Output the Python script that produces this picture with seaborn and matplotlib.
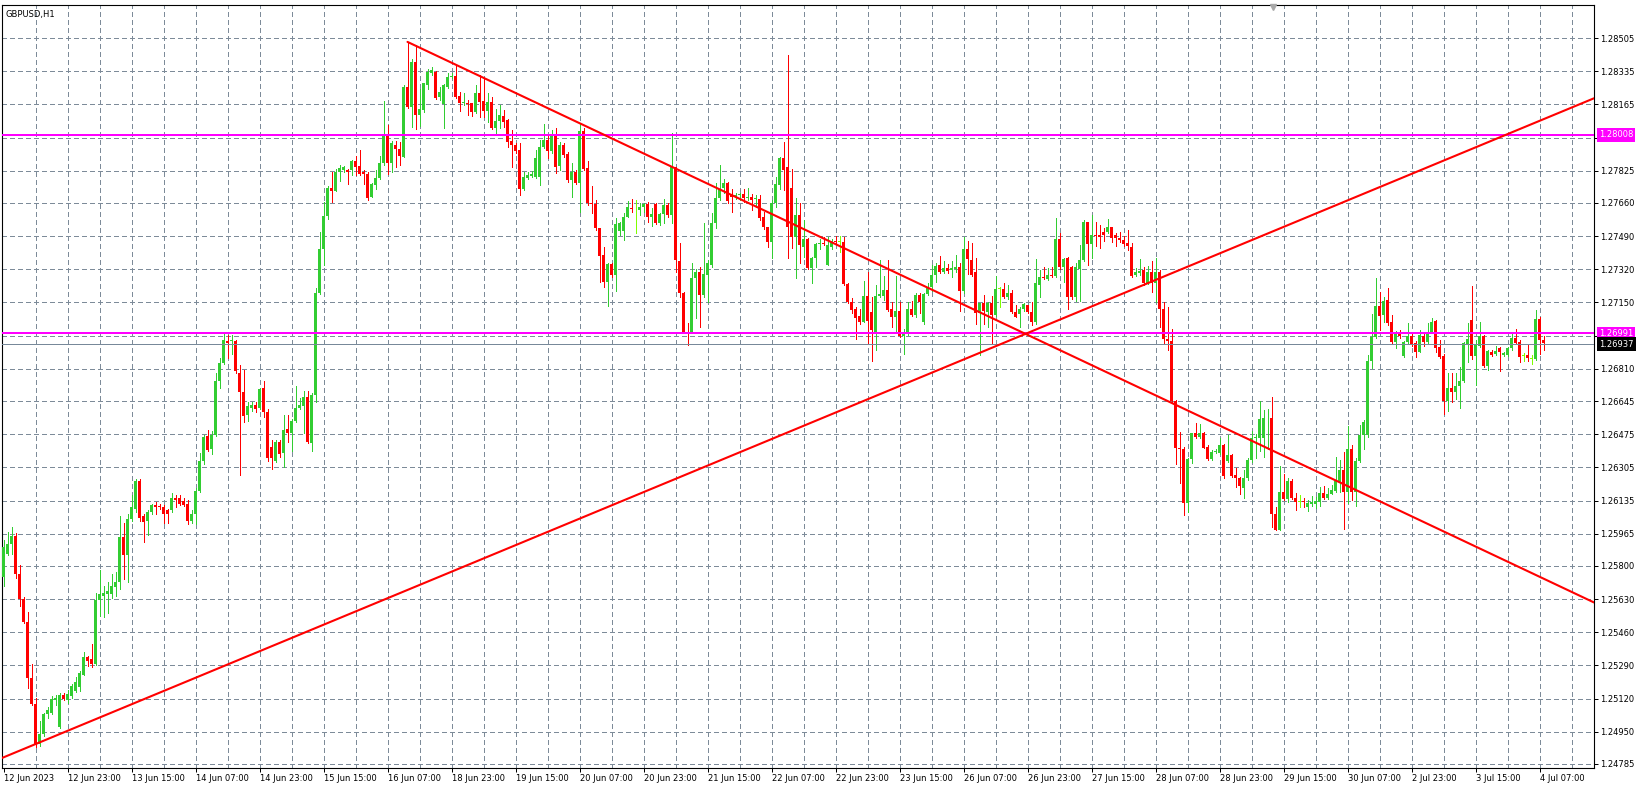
import numpy as np
import matplotlib
matplotlib.use('Agg')
import matplotlib.pyplot as plt
import matplotlib.transforms as mtransforms
import seaborn as sns

# GBPUSD H1 candles, prices in points (1e-5)
open_pts = [
    125744, 125863, 125911, 125954, 125756, 125632, 125512, 125226, 125093, 124885,
    124940, 125040, 125045, 125112, 124973, 125140, 125112, 125131, 125159, 125178,
    125243, 125333, 125321, 125298, 125624, 125648, 125655, 125655, 125691, 125720,
    125946, 125856, 126042, 126094, 126233, 126054, 126030, 126078, 126113, 126109,
    126101, 126089, 126089, 126149, 126149, 126132, 126118, 126030, 126066, 126185,
    126340, 126466, 126399, 126471, 126745, 126841, 126953, 126953, 126953, 126786,
    126690, 126571, 126609, 126626, 126609, 126710, 126590, 126411, 126340, 126435,
    126376, 126500, 126483, 126543, 126609, 126619, 126667, 126431, 126674, 127198,
    127425, 127592, 127735, 127723, 127819, 127830, 127830, 127830, 127873, 127850,
    127819, 127807, 127692, 127754, 127788, 127866, 128009, 127866, 127955, 127938,
    127897, 128256, 128153, 128384, 128110, 128136, 128264, 128324, 128332, 128204,
    128167, 128256, 128303, 128310, 128208, 128170, 128174, 128170, 128128, 128225,
    128184, 128131, 128179, 128042, 128081, 128105, 128085, 127979, 127957, 127931,
    127730, 127786, 127800, 127794, 127794, 127945, 127982, 127928, 128013, 127849,
    127957, 127911, 127777, 127820, 127764, 128028, 127837, 127661, 127654, 127530,
    127393, 127256, 127347, 127291, 127518, 127518, 127590, 127632, 127627, 127624,
    127637, 127654, 127586, 127654, 127555, 127603, 127649, 127598, 127842, 127364,
    127200, 127000, 127000, 127274, 127308, 127188, 127291, 127342, 127555, 127683,
    127735, 127760, 127701, 127692, 127701, 127706, 127683, 127692, 127678, 127678,
    127590, 127535, 127461, 127658, 127752, 127888, 127842, 127735, 127487, 127598,
    127436, 127474, 127325, 127376, 127450, 127457, 127342, 127433, 127467, 127462,
    127462, 127243, 127154, 127115, 127081, 127052, 127183, 127103, 127001, 127183,
    127183, 127214, 127115, 127077, 127108, 126980, 126989, 127115, 127086, 127188,
    127052, 127194, 127228, 127291, 127342, 127308, 127325, 127317, 127320, 127330,
    127211, 127422, 127368, 127308, 127098, 127146, 127103, 127146, 127086, 127223,
    127218, 127177, 127197, 127103, 127091, 127115, 127137, 127103, 127052, 127240,
    127279, 127269, 127289, 127286, 127474, 127334, 127376, 127334, 127177, 127320,
    127368, 127564, 127450, 127496, 127496, 127513, 127513, 127535, 127496, 127479,
    127470, 127457, 127436, 127291, 127300, 127317, 127248, 127308, 127248, 127308,
    127115, 126961, 126955, 126647, 126403, 126398, 126121, 126346, 126480, 126462,
    126479, 126411, 126348, 126382, 126377, 126419, 126337, 126368, 126266, 126252,
    126201, 126249, 126343, 126454, 126457, 126457, 126556, 126559, 126064, 125984,
    126177, 126143, 126235, 126150, 126129, 126133, 126103, 126115, 126115, 126129,
    126172, 126146, 126167, 126184, 126232, 126291, 126177, 126399, 126177, 126337,
    126471, 126471, 126850, 126975, 127133, 127086, 127162, 127048, 126946, 126997,
    126877, 126946, 126980, 126940, 126898, 126980, 126946, 126997, 127055, 126923,
    126877, 126645, 126710, 126693, 126723, 126747, 126935, 127060, 126877, 126928,
    126980, 126826, 126898, 126884, 126915, 126881, 126881, 126915, 126966, 126946,
    126877, 126881, 126862, 126860, 127065, 126957,
]
high_pts = [
    125934, 125975, 125999, 125970, 125803, 125641, 125565, 125298, 125124, 125004,
    125045, 125076, 125135, 125140, 125147, 125147, 125164, 125195, 125231, 125259,
    125357, 125338, 125398, 125660, 125779, 125696, 125720, 125760, 125767, 126054,
    126018, 126066, 126161, 126244, 126244, 126066, 126089, 126118, 126125, 126118,
    126113, 126094, 126173, 126161, 126161, 126149, 126137, 126089, 126197, 126376,
    126471, 126495, 126490, 126786, 126865, 126991, 126984, 126984, 126960, 126829,
    126805, 126638, 126638, 126638, 126710, 126745, 126602, 126447, 126447, 126447,
    126571, 126571, 126555, 126721, 126662, 126698, 126698, 126686, 127222, 127509,
    127664, 127747, 127819, 127835, 127854, 127850, 127835, 127878, 127902, 127931,
    127830, 127819, 127764, 127830, 127902, 128183, 128057, 127978, 127978, 127974,
    128264, 128481, 128396, 128469, 128242, 128276, 128344, 128358, 128338, 128256,
    128268, 128327, 128327, 128362, 128230, 128225, 128187, 128174, 128264, 128315,
    128298, 128225, 128201, 128139, 128162, 128136, 128088, 128034, 127965, 127969,
    127820, 127820, 127825, 127931, 127982, 128063, 128003, 128034, 128046, 127974,
    127965, 127923, 127863, 127829, 128068, 128042, 127876, 127747, 127675, 127533,
    127436, 127350, 127350, 127581, 127564, 127607, 127672, 127678, 127675, 127658,
    127661, 127666, 127632, 127661, 127607, 127678, 127658, 128017, 127846, 127453,
    127205, 127043, 127350, 127320, 127330, 127559, 127367, 127607, 127760, 127854,
    127781, 127769, 127730, 127709, 127713, 127730, 127735, 127706, 127701, 127701,
    127615, 127538, 127675, 127794, 127897, 127974, 128418, 127832, 127683, 127658,
    127573, 127479, 127382, 127457, 127474, 127487, 127487, 127474, 127491, 127491,
    127487, 127248, 127171, 127129, 127115, 127262, 127308, 127180, 127240, 127368,
    127286, 127368, 127154, 127286, 127154, 127013, 127154, 127159, 127200, 127197,
    127197, 127248, 127342, 127351, 127388, 127364, 127347, 127364, 127393, 127351,
    127484, 127467, 127453, 127376, 127149, 127188, 127154, 127183, 127286, 127231,
    127252, 127240, 127214, 127137, 127125, 127146, 127137, 127154, 127371, 127317,
    127330, 127325, 127334, 127581, 127508, 127376, 127382, 127337, 127354, 127445,
    127573, 127564, 127598, 127564, 127547, 127530, 127576, 127539, 127504, 127513,
    127491, 127522, 127457, 127325, 127371, 127334, 127337, 127364, 127376, 127317,
    127154, 127129, 127013, 126650, 126488, 126411, 126352, 126483, 126534, 126525,
    126484, 126419, 126394, 126399, 126457, 126423, 126471, 126372, 126300, 126257,
    126291, 126355, 126491, 126474, 126645, 126599, 126604, 126667, 126103, 126314,
    126269, 126249, 126245, 126172, 126163, 126150, 126138, 126160, 126155, 126206,
    126211, 126197, 126214, 126360, 126343, 126385, 126519, 126419, 126355, 126522,
    126548, 126881, 127089, 127277, 127202, 127179, 127226, 127086, 127004, 127009,
    126952, 127043, 127000, 126952, 127009, 126986, 127043, 127068, 127060, 126957,
    126884, 126787, 126787, 126787, 126821, 126946, 127043, 127236, 126957, 127051,
    126983, 126906, 126906, 126928, 126923, 126898, 126923, 126997, 127014, 126957,
    126889, 126935, 126881, 127111, 127077, 126980,
]
low_pts = [
    125696, 125856, 125863, 125737, 125593, 125508, 125176, 125088, 124873, 124878,
    124926, 125021, 125040, 125088, 124968, 125112, 125100, 125124, 125155, 125159,
    125243, 125286, 125283, 125290, 125541, 125536, 125560, 125636, 125648, 125684,
    125732, 125720, 126030, 126078, 126030, 125922, 125958, 126066, 126066, 126094,
    126018, 126018, 126078, 126101, 126113, 126109, 126013, 126018, 126013, 126180,
    126323, 126388, 126371, 126466, 126714, 126834, 126865, 126888, 126786, 126264,
    126538, 126543, 126595, 126590, 126602, 126562, 126340, 126299, 126333, 126357,
    126309, 126435, 126388, 126538, 126602, 126483, 126428, 126388, 126638, 127194,
    127342, 127580, 127664, 127723, 127771, 127819, 127759, 127802, 127802, 127802,
    127759, 127675, 127692, 127730, 127783, 127854, 127807, 127819, 127842, 127854,
    127897, 128145, 128051, 128037, 128054, 128128, 128242, 128315, 128191, 128187,
    128042, 128247, 128298, 128196, 128133, 128162, 128110, 128105, 128119, 128102,
    128099, 128076, 128037, 128020, 128042, 128051, 127948, 127846, 127914, 127701,
    127726, 127781, 127794, 127786, 127752, 127940, 127888, 127914, 127812, 127829,
    127897, 127769, 127692, 127757, 127615, 127829, 127649, 127607, 127521, 127256,
    127231, 127132, 127282, 127210, 127496, 127470, 127586, 127615, 127504, 127598,
    127615, 127564, 127542, 127552, 127547, 127555, 127590, 127555, 127308, 127180,
    127000, 126932, 126992, 127069, 127022, 127180, 127154, 127330, 127530, 127675,
    127709, 127661, 127615, 127678, 127675, 127666, 127675, 127624, 127641, 127572,
    127525, 127432, 127376, 127641, 127730, 127726, 127376, 127427, 127274, 127350,
    127385, 127320, 127252, 127334, 127422, 127445, 127342, 127422, 127450, 127411,
    127240, 127149, 127098, 126961, 127040, 127052, 126944, 126852, 126907, 127180,
    127163, 127107, 127023, 126992, 126975, 126884, 126984, 127081, 127077, 127095,
    127040, 127188, 127211, 127257, 127300, 127303, 127300, 127279, 127308, 127108,
    127200, 127296, 127286, 127040, 126881, 127040, 127023, 126944, 127081, 127129,
    127171, 127166, 127098, 127074, 127026, 127108, 127098, 127035, 127040, 127180,
    127269, 127265, 127282, 127282, 127320, 127257, 127115, 127166, 127159, 127159,
    127364, 127342, 127376, 127440, 127428, 127467, 127508, 127462, 127440, 127462,
    127440, 127419, 127282, 127286, 127291, 127240, 127245, 127206, 127154, 127026,
    126944, 126907, 126642, 126323, 126223, 126061, 126078, 126329, 126454, 126454,
    126402, 126343, 126343, 126377, 126372, 126252, 126334, 126257, 126206, 126167,
    126146, 126240, 126334, 126351, 126389, 126360, 126399, 126001, 125984, 125984,
    126138, 126129, 126143, 126086, 126103, 126103, 126081, 126109, 126095, 126109,
    126143, 126143, 126167, 126177, 126177, 125989, 126121, 126138, 126109, 126334,
    126399, 126462, 126816, 126969, 127009, 127051, 127034, 126940, 126918, 126969,
    126872, 126935, 126928, 126872, 126894, 126928, 126940, 126992, 126894, 126867,
    126577, 126594, 126641, 126655, 126611, 126744, 126846, 126860, 126727, 126923,
    126821, 126804, 126877, 126881, 126799, 126877, 126877, 126906, 126935, 126843,
    126850, 126850, 126833, 126855, 126884, 126906,
]
close_pts = [
    125899, 125911, 125954, 125756, 125632, 125512, 125226, 125093, 124885, 124940,
    125040, 125064, 125119, 125121, 125140, 125119, 125143, 125183, 125207, 125250,
    125333, 125314, 125298, 125624, 125655, 125660, 125672, 125696, 125720, 125946,
    125856, 126042, 126101, 126233, 126047, 126023, 126078, 126113, 126101, 126101,
    126066, 126066, 126149, 126137, 126118, 126113, 126030, 126066, 126185, 126340,
    126459, 126395, 126471, 126745, 126841, 126960, 126943, 126960, 126800, 126690,
    126566, 126619, 126626, 126602, 126705, 126590, 126352, 126352, 126435, 126371,
    126495, 126483, 126543, 126609, 126626, 126667, 126435, 126674, 127198, 127425,
    127592, 127735, 127723, 127819, 127838, 127842, 127819, 127873, 127842, 127807,
    127807, 127687, 127759, 127788, 127866, 128009, 127866, 127966, 127938, 127902,
    128256, 128153, 128384, 128110, 128139, 128273, 128332, 128341, 128196, 128230,
    128264, 128307, 128310, 128204, 128174, 128179, 128167, 128128, 128225, 128179,
    128131, 128179, 128042, 128081, 128110, 128076, 127974, 127957, 127928, 127730,
    127794, 127803, 127808, 127888, 127948, 127982, 127928, 128013, 127846, 127957,
    127905, 127777, 127820, 127764, 128028, 127832, 127658, 127654, 127530, 127388,
    127256, 127347, 127291, 127552, 127555, 127590, 127637, 127627, 127630, 127637,
    127654, 127586, 127603, 127559, 127603, 127649, 127598, 127842, 127367, 127200,
    127000, 126992, 127274, 127308, 127188, 127296, 127350, 127555, 127683, 127730,
    127760, 127672, 127689, 127701, 127706, 127683, 127692, 127675, 127683, 127581,
    127535, 127461, 127658, 127757, 127888, 127829, 127538, 127487, 127598, 127444,
    127474, 127325, 127376, 127450, 127457, 127450, 127445, 127467, 127462, 127464,
    127243, 127154, 127112, 127072, 127052, 127183, 127057, 127009, 127183, 127194,
    127214, 127112, 127077, 127108, 126980, 126995, 127115, 127086, 127188, 127154,
    127194, 127228, 127291, 127337, 127308, 127325, 127313, 127325, 127330, 127211,
    127422, 127371, 127291, 127098, 127146, 127108, 127146, 127086, 127218, 127221,
    127177, 127197, 127103, 127077, 127115, 127142, 127103, 127052, 127248, 127279,
    127274, 127289, 127286, 127474, 127334, 127371, 127180, 127177, 127334, 127368,
    127564, 127450, 127496, 127491, 127487, 127496, 127535, 127479, 127479, 127470,
    127450, 127440, 127286, 127308, 127313, 127248, 127308, 127248, 127308, 127115,
    126961, 126955, 126647, 126403, 126398, 126121, 126346, 126480, 126463, 126479,
    126406, 126348, 126382, 126389, 126419, 126262, 126368, 126262, 126252, 126211,
    126252, 126343, 126457, 126462, 126553, 126556, 126559, 126064, 125984, 126177,
    126143, 126235, 126150, 126129, 126131, 126126, 126121, 126126, 126133, 126172,
    126150, 126167, 126189, 126235, 126291, 126177, 126399, 126177, 126337, 126471,
    126539, 126850, 126975, 127133, 127082, 127157, 127043, 126946, 126992, 126980,
    126946, 126980, 126935, 126898, 126983, 126949, 126997, 127051, 126915, 126872,
    126645, 126710, 126693, 126723, 126747, 126940, 126963, 126877, 126935, 126980,
    126826, 126901, 126881, 126901, 126894, 126889, 126915, 126966, 126940, 126872,
    126879, 126864, 126866, 127065, 126957, 126940,
]
doji_bars = [158, 209, 249, 324, 380, 382]

x_labels = ['12 Jun 2023', '12 Jun 23:00', '13 Jun 15:00', '14 Jun 07:00', '14 Jun 23:00',
            '15 Jun 15:00', '16 Jun 07:00', '18 Jun 23:00', '19 Jun 15:00', '20 Jun 07:00',
            '20 Jun 23:00', '21 Jun 15:00', '22 Jun 07:00', '22 Jun 23:00', '23 Jun 15:00',
            '26 Jun 07:00', '26 Jun 23:00', '27 Jun 15:00', '28 Jun 07:00', '28 Jun 23:00',
            '29 Jun 15:00', '30 Jun 07:00', '2 Jul 23:00', '3 Jul 15:00', '4 Jul 07:00']
price_ticks = [1.24785, 1.24950, 1.25120, 1.25290, 1.25460, 1.25630, 1.25800, 1.25965,
               1.26135, 1.26305, 1.26475, 1.26645, 1.26810, 1.26980, 1.27150, 1.27320,
               1.27490, 1.27660, 1.27825, 1.27995, 1.28165, 1.28335, 1.28505]
hidden_ticks = [1.26980, 1.27995]

# trend lines: two anchor points each (bar index, price)
down_bars, down_prices = [101, 300], [1.28485, 1.26558]
up_bars, up_prices = [8, 300], [1.24887, 1.27367]
levels = [1.28008, 1.26991]
bid = 1.26937

opens = np.array(open_pts) / 1e5
highs = np.array(high_pts) / 1e5
lows = np.array(low_pts) / 1e5
closes = np.array(close_pts) / 1e5
x = np.arange(len(closes))

sns.set_style('white')
plt.rcParams['font.family'] = ['DejaVu Sans']
plt.rcParams['lines.scale_dashes'] = False

W, H = 1638, 787
fig = plt.figure(figsize=(W / 100, H / 100), dpi=100)
ax = fig.add_axes([2 / W, 19 / H, 1592 / W, 763 / H])
x0, x1 = -0.375, 397.625
ylo, yhi = 1.247645, 1.286741

grid_col = '#7d8b99'
dash = (0, (3, 2.2))
ax.hlines(price_ticks, 0, 1, transform=ax.get_yaxis_transform(), colors=grid_col,
          lw=0.72, linestyles=[dash], antialiased=False, zorder=1)
ax.vlines(np.arange(8, 393, 8), 0, 1, transform=ax.get_xaxis_transform(), colors=grid_col,
          lw=0.72, linestyles=[dash], antialiased=False, zorder=1)

colors = np.where(closes > opens, '#32CD32', '#FF0000').astype(object)
for b in doji_bars:
    colors[b] = '#7FFF00'
ax.vlines(x, lows, highs, colors=list(colors), lw=0.72, antialiased=False, zorder=2)
body_lo = np.minimum(opens, closes)
body_h = np.maximum(np.abs(closes - opens), 0.00004)
ax.bar(x, body_h, bottom=body_lo, width=0.75, color=list(colors), linewidth=0, zorder=3)

for lv in levels:
    ax.axhline(lv, color='#FF00FF', lw=1.44, antialiased=False, zorder=4)
ax.axhline(bid, color='#778899', lw=0.72, antialiased=False, zorder=4)

slope = (down_prices[1] - down_prices[0]) / (down_bars[1] - down_bars[0])
sns.lineplot(x=[down_bars[0], x1], y=[down_prices[0], down_prices[0] + slope * (x1 - down_bars[0])],
             ax=ax, color='#FF0000', linewidth=1.5, zorder=5)
slope = (up_prices[1] - up_prices[0]) / (up_bars[1] - up_bars[0])
sns.lineplot(x=[x0, x1], y=[up_prices[0] + slope * (x0 - up_bars[0]), up_prices[0] + slope * (x1 - up_bars[0])],
             ax=ax, color='#FF0000', linewidth=1.5, zorder=5)
ax.set_xlim(x0, x1)
ax.set_ylim(ylo, yhi)

ax.yaxis.tick_right()
ax.set_yticks(price_ticks)
ax.set_yticklabels(['' if p in hidden_ticks else f'{p:.5f}' for p in price_ticks], fontsize=6)
ax.tick_params(axis='y', right=True, left=False, length=3, width=0.72, pad=1.5, colors='black')
ax.set_xticks(np.arange(0, 385, 16))
ax.set_xticklabels(x_labels, fontsize=6, ha='left')
ax.tick_params(axis='x', bottom=True, length=3, width=0.72, pad=1, colors='black')
ax.set_xlabel('')
ax.set_ylabel('')
for s in ax.spines.values():
    s.set_color('black')
    s.set_linewidth(0.8)

for val, fc in [(levels[0], '#FF00FF'), (levels[1], '#FF00FF'), (bid, 'black')]:
    ax.annotate(f'{val:.5f}', xy=(1, val), xycoords=('axes fraction', 'data'),
                xytext=(5, 0), textcoords='offset pixels', ha='left', va='center',
                fontsize=6, color='white', annotation_clip=False, zorder=10,
                bbox=dict(boxstyle='square,pad=0.25', fc=fc, ec='none'))

ax.annotate('GBPUSD,H1', xy=(0, 1), xycoords='axes fraction', xytext=(4, -5),
            textcoords='offset pixels', ha='left', va='top', fontsize=6, color='black')

trans = mtransforms.blended_transform_factory(ax.transData, ax.transAxes)
ax.plot([317.4], [0.997], marker='v', color='#A9A9A9', markersize=5, transform=trans,
        clip_on=False, zorder=10)

fig.savefig('out.png', dpi=100, facecolor='white')
